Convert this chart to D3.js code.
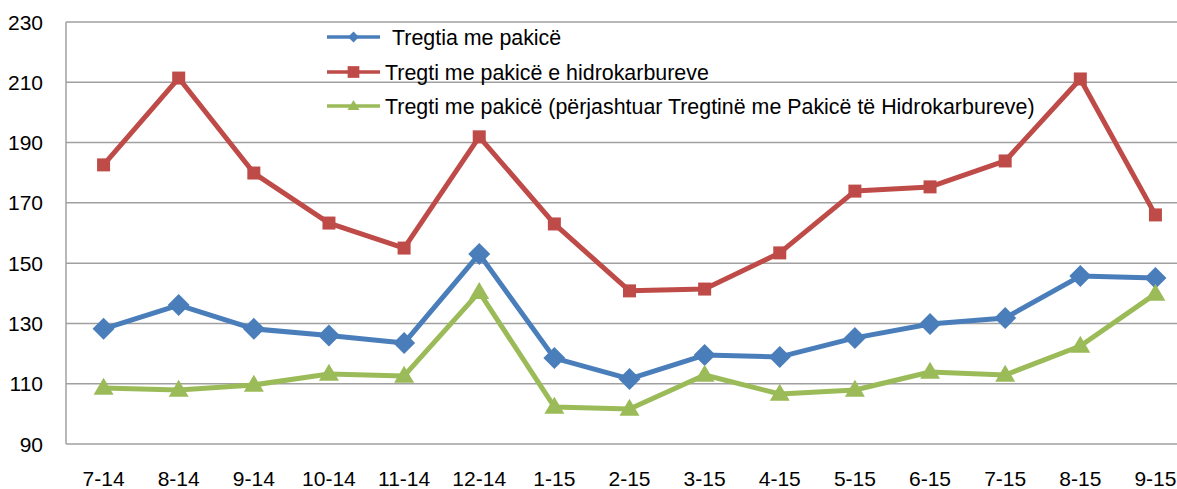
<!DOCTYPE html>
<html><head><meta charset="utf-8">
<script src="https://cdn.jsdelivr.net/npm/d3@7"></script>
<style>body{margin:0;background:#fff}svg{display:block}text{font-family:"Liberation Sans",Arial,sans-serif;fill:#000}</style>
</head><body><svg id="c" width="1177" height="489"></svg>
<script>
const categories = ["7-14","8-14","9-14","10-14","11-14","12-14","1-15","2-15","3-15","4-15","5-15","6-15","7-15","8-15","9-15"];
const blueValues = [128.2,136.1,128.2,126,123.5,153,118.5,111.6,119.5,118.9,125.2,129.8,131.8,145.7,145.1];
const redValues = [182.6,211.4,179.9,163.3,155,191.9,163,140.8,141.4,153.4,173.9,175.3,183.9,211.1,166];
const greenValues = [108.6,107.9,109.6,113.2,112.6,140.4,102.3,101.6,112.9,106.6,107.9,113.9,112.9,122.5,139.8];
const yTicks = [90,110,130,150,170,190,210,230];
const seriesNames = ["Tregtia me pakicë","Tregti me pakicë e hidrokarbureve","Tregti me pakicë (përjashtuar Tregtinë me Pakicë të Hidrokarbureve)"];

const svg = d3.select("#c");
const x = d3.scaleBand().domain(categories).range([66, 1193]).padding(0);
const y = d3.scaleLinear().domain([90,230]).range([444,22]);
const cx = d => x(d) + x.bandwidth()/2;

// gridlines
svg.append("g").selectAll("line").data(yTicks).join("line")
  .attr("x1",66).attr("x2",1177).attr("y1",d=>y(d)).attr("y2",d=>y(d))
  .attr("stroke","#a0a0a0").attr("stroke-width",1.5);
// y axis line
svg.append("line").attr("x1",66).attr("x2",66).attr("y1",y(230)).attr("y2",y(90))
  .attr("stroke","#a0a0a0").attr("stroke-width",1.5);
// y labels
svg.append("g").selectAll("text").data(yTicks).join("text")
  .attr("x",43).attr("y",d=>y(d)+7.5).attr("text-anchor","end").attr("font-size",21).text(d=>d);
// x labels
svg.append("g").selectAll("text").data(categories).join("text")
  .attr("x",d=>cx(d)).attr("y",486).attr("text-anchor","middle").attr("font-size",21).text(d=>d);

const series = [
  {name:seriesNames[0], values:blueValues, color:"#4A7EBB", marker:"diamond"},
  {name:seriesNames[1], values:redValues, color:"#BE4B48", marker:"square"},
  {name:seriesNames[2], values:greenValues, color:"#9BBB59", marker:"triangle"}
];
const line = d3.line().x((d,i)=>cx(categories[i])).y(d=>y(d));

function marker(g, type, color, px, py, scale){
  if(type==="diamond"){
    const r=11*scale;
    g.append("path").attr("d",`M${px},${py-r}L${px+r},${py}L${px},${py+r}L${px-r},${py}Z`).attr("fill",color);
  } else if(type==="square"){
    const s=13*scale;
    g.append("rect").attr("x",px-s/2).attr("y",py-s/2).attr("width",s).attr("height",s).attr("fill",color);
  } else {
    const w=20*scale, h=17*scale;
    g.append("path").attr("d",`M${px},${py-h*0.6}L${px+w/2},${py+h*0.4}L${px-w/2},${py+h*0.4}Z`).attr("fill",color);
  }
}

series.forEach(s=>{
  svg.append("path").datum(s.values).attr("d",line).attr("fill","none")
    .attr("stroke",s.color).attr("stroke-width",5).attr("stroke-linejoin","round");
  const g = svg.append("g");
  s.values.forEach((v,i)=>marker(g,s.marker,s.color,cx(categories[i]),y(v),1));
});

// legend
const legY = [37,72,106];
series.forEach((s,i)=>{
  const g = svg.append("g");
  g.append("line").attr("x1",327).attr("x2",380).attr("y1",legY[i]).attr("y2",legY[i])
    .attr("stroke",s.color).attr("stroke-width",3.5);
  marker(g,s.marker,s.color,353.5,legY[i], i===0?0.5:(i===1?0.9:0.6));
  g.append("text").attr("x", i===0?392:385).attr("y",legY[i]+7.5).attr("font-size",21.4).text(s.name);
});
</script></body></html>
